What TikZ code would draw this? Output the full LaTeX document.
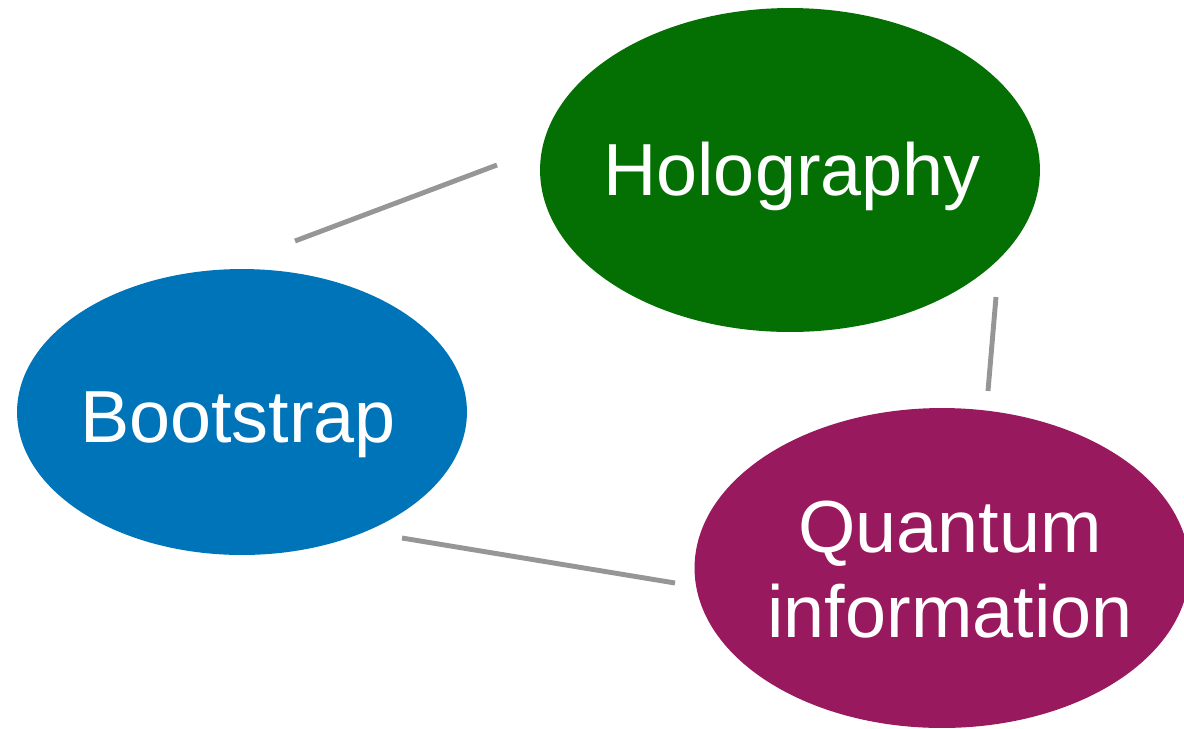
\documentclass[tikz,border=0pt]{standalone}
\usepackage{fontspec}
\setmainfont{Liberation Sans}
\usetikzlibrary{shapes.geometric}
\definecolor{holocol}{RGB}{4,112,3}
\definecolor{bootcol}{RGB}{0,116,184}
\definecolor{quantcol}{RGB}{153,25,94}
\definecolor{linkcol}{RGB}{150,150,150}
\tikzset{
  blob/.style={ellipse, inner sep=0pt, outer sep=0pt},
  topic/.style={text=white, anchor=base, align=center,
    font=\fontsize{42}{48}\selectfont},
  link/.style={draw=linkcol, line width=2.8pt}
}
\begin{document}
\begin{tikzpicture}[x=0.02cm, y=-0.02cm]
      \clip (0,0) rectangle (1184,728);
      \node[blob, fill=holocol, minimum width=10cm, minimum height=6.48cm] (holo) at (790,170) {};
      \node[blob, fill=bootcol, minimum width=9cm, minimum height=5.72cm] (boot) at (242,412) {};
      \node[blob, fill=quantcol, minimum width=9.9cm, minimum height=6.4cm] (quant) at (942,568) {};
      \node[topic] (holotext) at (792,195) {Holography};
      \node[topic] (boottext) at (238,442) {Bootstrap};
      \node[topic] (quanttext) at (950,637) {Quantum\\information};
      \coordinate (bh) at (295,241);
      \coordinate (hb) at (497,165);
      \coordinate (hq) at (996,297);
      \coordinate (qh) at (988,391);
      \coordinate (bq) at (402,538);
      \coordinate (qb) at (675,583);
      \begin{scope}[link]
        \draw (bh) to (hb);
        \draw (hq) to (qh);
        \draw (bq) to (qb);
      \end{scope}
    \end{tikzpicture}
\end{document}
